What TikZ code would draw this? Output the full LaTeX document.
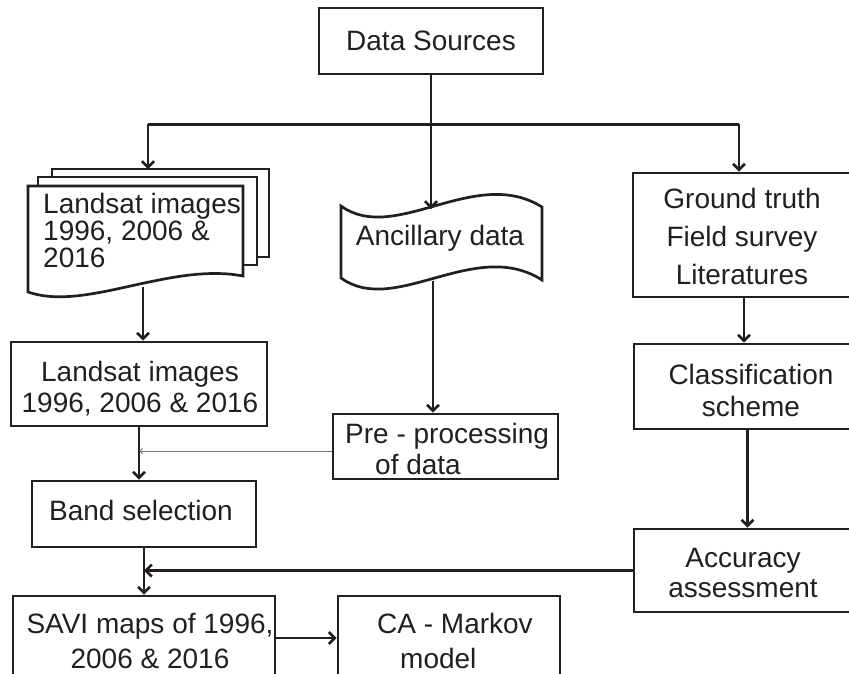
\documentclass[tikz,border=0pt]{standalone}
\usepackage{fontspec}
\setmainfont{Liberation Sans}
\usetikzlibrary{arrows.meta,calc}
\definecolor{ink}{RGB}{35,31,32}
\begin{document}
\begin{tikzpicture}[x=1pt,y=-1pt,
  box/.style={draw=ink, line width=2.7pt, rectangle, inner sep=0pt},
  lbl/.style={text=ink, inner sep=0pt, align=center, font=\fontsize{28}{31}\selectfont},
  conn/.style={draw=ink, line width=2.6pt},
  arr/.style={draw=ink, line width=2.6pt, -{Straight Barb[length=6pt,width=12pt]}},
  thinarr/.style={draw=black!55, line width=0.9pt, -{Straight Barb[length=3pt,width=5pt]}},
  page/.style={draw=ink, fill=white, line width=2.7pt, line join=miter},
]
\useasboundingbox (0,0) rectangle (849,673);
\clip (0,0) rectangle (849,673);

% ---- boxes ----
\node[box, minimum width=224pt, minimum height=66pt] (ds) at (431,41) {};
\node[lbl] (dsT) at (ds) {Data Sources};

\node[box, minimum width=222pt, minimum height=124pt] (gt) at (744,235) {};
\node[lbl, font=\fontsize{28}{38}\selectfont] (gtT) at (742,236) {Ground truth\\Field survey\\Literatures};

\node[box, minimum width=221pt, minimum height=85pt] (cls) at (744.5,386.5) {};
\node[lbl, font=\fontsize{28}{32}\selectfont] (clsT) at (751,390) {Classification\\scheme};

\node[box, minimum width=221pt, minimum height=83pt] (acc) at (744.5,570.5) {};
\node[lbl, font=\fontsize{28}{30}\selectfont] (accT) at (743,573) {Accuracy\\assessment};

\node[box, minimum width=256pt, minimum height=84pt] (ls) at (139,384) {};
\node[lbl] (lsT) at (140,389) {Landsat images\\1996, 2006 \& 2016};

\node[box, minimum width=224pt, minimum height=66pt] (band) at (144,514) {};
\node[lbl] (bandT) at (141,510) {Band selection};

\node[box, minimum width=225pt, minimum height=65pt] (pre) at (445.5,446.5) {};
\node[lbl, align=left, anchor=west] (preT) at (345,449) {Pre - processing\\\hspace*{30pt}of data};

\node[box, minimum width=262pt, minimum height=84pt] (savi) at (144,638) {};
\node[lbl, font=\fontsize{28}{35}\selectfont] (saviT) at (150,641) {SAVI maps of 1996,\\2006 \& 2016};

\node[box, minimum width=222pt, minimum height=84pt] (ca) at (449,638) {};
\node[lbl, align=left, anchor=west, font=\fontsize{28}{35}\selectfont] (caT) at (377,641) {CA - Markov\\\hspace*{23pt}model};

% ---- stacked document ----
\draw[page] (52,169) rectangle (269,257);
\draw[page] (38,177) rectangle (257,265);
\draw[page] (28,186) -- (243,186) -- (243,276) .. controls (170,262) and (85,312) .. (28,292) -- cycle;
\node[lbl, align=left, anchor=north west, font=\fontsize{28}{27}\selectfont] (stack) at (43,193) {Landsat images\\1996, 2006 \&\\2016};
\coordinate (stackIn) at (148,169);
\coordinate (stackOut) at (143,287);

% ---- ancillary (wavy) ----
\draw[page] (341,206) .. controls (395,245) and (475,165) .. (542,207) -- (542,280) .. controls (475,237) and (395,317) .. (341,278) -- cycle;
\node[lbl] (ancT) at (440,238) {Ancillary data};
\coordinate (ancIn) at (431,209);
\coordinate (ancOut) at (433,281);

% ---- connectors ----
\coordinate (J) at ($(ds.south)+(0,49)$);
\coordinate (Lj) at (J -| stackIn);
\coordinate (Rj) at ($(J)+(308,0)$);
\draw[conn] (ds.south) -- (J);
\draw[conn] (Lj) -- (Rj);
\draw[arr] (Lj) -- (stackIn);
\draw[arr] (J) -- (ancIn);
\draw[arr] (Rj) -- (Rj |- gt.north);

\draw[arr] (stackOut) -- (stackOut |- ls.north);
\draw[arr] (ls.south) -- (ls.south |- band.north);
\draw[thinarr] ([yshift=-4.5pt]pre.west) -- ([yshift=-4.5pt]pre.west -| ls.south);
\draw[arr] (band.south) -- (band.south |- savi.north);
\draw[arr] (acc.west) -- (acc.west -| band.south);
\draw[arr] (savi.east) -- (ca.west);

\draw[arr] (ancOut) -- (ancOut |- pre.north);

\draw[arr] (gt.south) -- (gt.south |- cls.north);
\draw[arr] ([xshift=3pt]cls.south) -- ([xshift=3pt]cls.south |- acc.north);
\end{tikzpicture}
\end{document}
